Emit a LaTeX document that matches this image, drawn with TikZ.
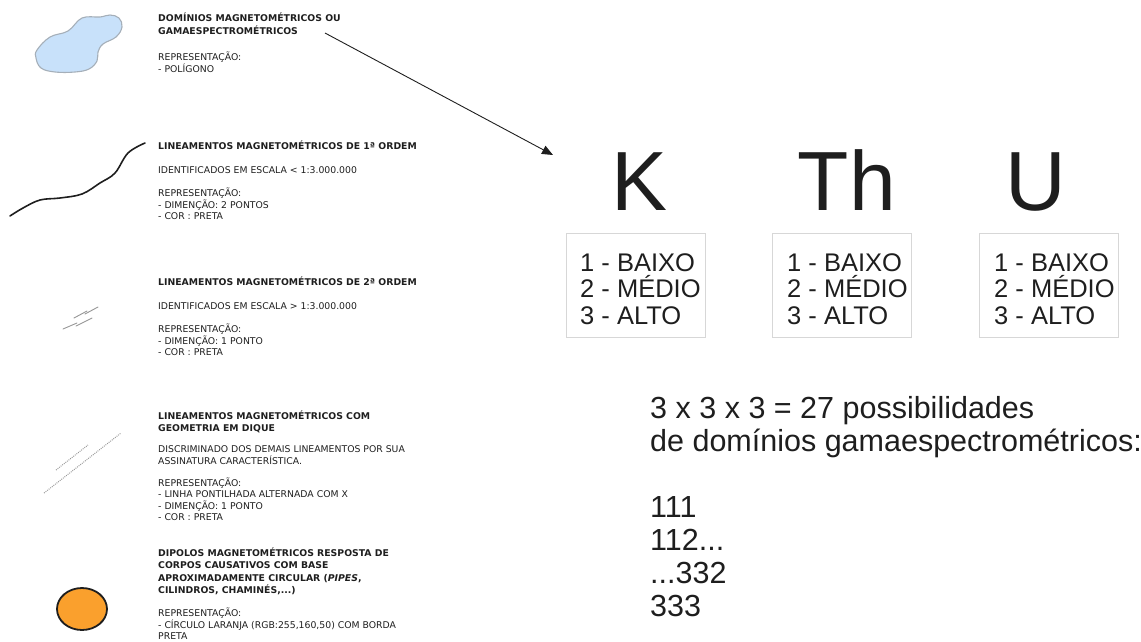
\documentclass[tikz,border=0pt]{standalone}
\usepackage{fontspec}
\setmainfont{Liberation Sans}
\newfontfamily\notefont{DejaVu Sans}
\usetikzlibrary{arrows.meta}

\definecolor{blobfill}{RGB}{200,225,250}
\definecolor{blobedge}{RGB}{165,175,185}
\definecolor{dipole}{RGB}{250,160,45}
\definecolor{boxedge}{RGB}{215,215,215}
\definecolor{ink}{RGB}{30,30,30}
\definecolor{trace}{RGB}{150,150,150}

% stacked lines whose baseline is that of the first line
\newcommand\linesat[2]{\vtop{\baselineskip=#1\lineskiplimit=-100pt\lineskip=0pt #2}}
\newcommand\txtrow[1]{\hbox{#1}}

\tikzset{
  notetitle/.style={anchor=base west, inner sep=0pt, text=ink,
    font=\notefont\fontsize{9.3}{12.3}\bfseries\selectfont},
  notebody/.style={anchor=base west, inner sep=0pt, text=ink,
    font=\notefont\fontsize{9.3}{11.7}\selectfont},
  bigletter/.style={anchor=base, inner sep=0pt, text=ink,
    font=\fontsize{84}{84}\selectfont},
  levelbox/.style={draw=boxedge, line width=0.8pt, minimum width=139pt,
    minimum height=104pt, inner sep=0pt},
  leveltext/.style={anchor=base west, inner sep=0pt, text=ink,
    font=\fontsize{25.5}{26.5}\selectfont},
  sumtext/.style={anchor=base west, inner sep=0pt, text=ink,
    font=\fontsize{30.5}{33}\selectfont},
  blob/.style={fill=blobfill, draw=blobedge, line width=1.1pt},
  firstorder/.style={draw=ink, line width=1.6pt, line cap=round},
  secondorder/.style={draw=trace, line width=0.9pt, line cap=round},
  dike/.style={draw=trace, line width=1pt, dash pattern=on 0.9pt off 1.1pt},
  dipolemark/.style={fill=dipole, draw=ink, line width=1.8pt},
  pointer/.style={draw=ink, line width=0.9pt, -{Triangle[length=11pt,width=9pt]}}
}

\begin{document}
\begin{tikzpicture}[x=1pt, y=-1pt]
\useasboundingbox (0,0) rectangle (1141,641);

% ---------- legend symbols ----------
\draw[blob] plot[smooth cycle, tension=0.65] coordinates {
  (37,50) (50,37) (68,31) (82,18) (100,17) (110,15) (119,18) (122,27)
  (116,37) (103,44) (98,52) (97,61) (89,69) (75,72) (55,72) (41,68) (36,58)};

\draw[firstorder] plot[smooth, tension=0.6] coordinates {
  (10,216) (23,208) (40,200) (60,198) (82,194) (100,183) (115,173) (128,153) (145,143)};

\draw[secondorder] (74,318) -- (87,311);
\draw[secondorder] (85,314) -- (98,307);
\draw[secondorder] (63,329) -- (77,323);
\draw[secondorder] (76,326) -- (92,318);

\draw[dike] (56,470) -- (88,445);
\draw[dike] (44,493) -- (121,433);

\draw[dipolemark] (82,609) ellipse [x radius=25, y radius=21];

% ---------- legend texts ----------
\node[notetitle] (domtitle) at (158,21.5) {\linesat{12.5pt}{%
  \txtrow{DOMÍNIOS MAGNETOMÉTRICOS OU}\txtrow{GAMAESPECTROMÉTRICOS}}};
\node[notebody] (domrep) at (158,60.5) {\linesat{11.7pt}{%
  \txtrow{REPRESENTAÇÃO:}\txtrow{- POLÍGONO}}};

\node[notetitle] (ordonetitle) at (158,149.5) {LINEAMENTOS MAGNETOMÉTRICOS DE 1ª ORDEM};
\node[notebody] (ordonescale) at (158,173.5) {IDENTIFICADOS EM ESCALA < 1:3.000.000};
\node[notebody] (ordonerep) at (158,196.5) {\linesat{11.7pt}{%
  \txtrow{REPRESENTAÇÃO:}\txtrow{- DIMENÇÃO: 2 PONTOS}\txtrow{- COR : PRETA}}};

\node[notetitle] (ordtwotitle) at (158,285.5) {LINEAMENTOS MAGNETOMÉTRICOS DE 2ª ORDEM};
\node[notebody] (ordtwoscale) at (158,309.5) {IDENTIFICADOS EM ESCALA > 1:3.000.000};
\node[notebody] (ordtworep) at (158,332.5) {\linesat{11.7pt}{%
  \txtrow{REPRESENTAÇÃO:}\txtrow{- DIMENÇÃO: 1 PONTO}\txtrow{- COR : PRETA}}};

\node[notetitle] (diketitle) at (158,419.5) {\linesat{12pt}{%
  \txtrow{LINEAMENTOS MAGNETOMÉTRICOS COM}\txtrow{GEOMETRIA EM DIQUE}}};
\node[notebody] (dikenote) at (158,452.5) {\linesat{11.7pt}{%
  \txtrow{DISCRIMINADO DOS DEMAIS LINEAMENTOS POR SUA}\txtrow{ASSINATURA CARACTERÍSTICA.}}};
\node[notebody] (dikerep) at (158,486.5) {\linesat{11.3pt}{%
  \txtrow{REPRESENTAÇÃO:}\txtrow{- LINHA PONTILHADA ALTERNADA COM X}%
  \txtrow{- DIMENÇÃO: 1 PONTO}\txtrow{- COR : PRETA}}};

\node[notetitle] (dipoletitle) at (158,556.5) {\linesat{12.3pt}{%
  \txtrow{DIPOLOS MAGNETOMÉTRICOS RESPOSTA DE}\txtrow{CORPOS CAUSATIVOS COM BASE}%
  \txtrow{APROXIMADAMENTE CIRCULAR (\textit{PIPES},}\txtrow{CILINDROS, CHAMINÉS,...)}}};
\node[notebody] (dipolerep) at (158,616.5) {\linesat{11.7pt}{%
  \txtrow{REPRESENTAÇÃO:}\txtrow{- CÍRCULO LARANJA (RGB:255,160,50) COM BORDA}\txtrow{PRETA}}};

% ---------- arrow to the gamma-ray channels ----------
\coordinate (domtail) at (325,33);
\coordinate (domhead) at (553,155);
\draw[pointer] (domtail) -- (domhead);

% ---------- channels K, Th, U ----------
\node[bigletter] (chk)  at (640,210) {K};
\node[bigletter] (chth) at (847,210) {Th};
\node[bigletter] (chu)  at (1036,210) {U};

\node[levelbox] (boxk)  at (635.5,285) {};
\node[levelbox] (boxth) at (842,285) {};
\node[levelbox] (boxu)  at (1049,285) {};

\node[leveltext] (levk)  at (580,271) {\linesat{26.5pt}{%
  \txtrow{1 - BAIXO}\txtrow{2 - MÉDIO}\txtrow{3 - ALTO}}};
\node[leveltext] (levth) at (787,271) {\linesat{26.5pt}{%
  \txtrow{1 - BAIXO}\txtrow{2 - MÉDIO}\txtrow{3 - ALTO}}};
\node[leveltext] (levu)  at (994,271) {\linesat{26.5pt}{%
  \txtrow{1 - BAIXO}\txtrow{2 - MÉDIO}\txtrow{3 - ALTO}}};

% ---------- combinations ----------
\node[sumtext] (combos) at (650,418) {\linesat{33pt}{%
  \txtrow{3 x 3 x 3 = 27 possibilidades}\txtrow{de domínios gamaespectrométricos:}%
  \txtrow{\strut}\txtrow{111}\txtrow{112...}\txtrow{...332}\txtrow{333}}};
\end{tikzpicture}
\end{document}
